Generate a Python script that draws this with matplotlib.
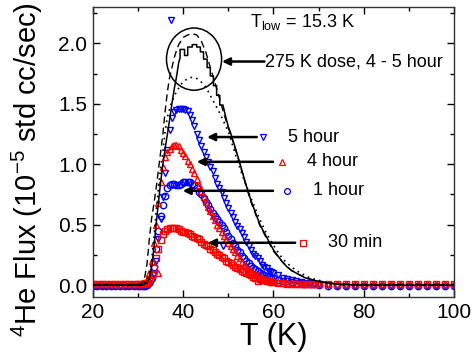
import matplotlib
matplotlib.use('Agg')
import matplotlib.pyplot as plt
from matplotlib.patches import Ellipse
from matplotlib.ticker import MultipleLocator

plt.rcParams['font.family'] = ['Liberation Sans', 'DejaVu Sans']
plt.rcParams['mathtext.fontset'] = 'custom'
plt.rcParams['mathtext.rm'] = 'Liberation Sans'
plt.rcParams['mathtext.it'] = 'Liberation Sans:italic'

# Shared temperature grid for the measured series (K)
T_pts = [20, 21, 22, 23, 24, 25, 26, 27, 28, 29, 30, 30.5, 31, 31.5, 32, 32.5, 33, 33.5, 34, 34.5,
         35, 35.5, 36, 36.5, 37, 37.5, 38, 38.5, 39, 39.5, 40, 40.5, 41, 41.5, 42, 42.5, 43, 43.5,
         44, 44.5, 45, 45.5, 46, 46.5, 47, 47.5, 48, 48.5, 49, 49.5, 50, 50.5, 51, 51.5, 52, 52.5,
         53, 53.5, 54, 54.5, 55, 55.5, 56, 56.5, 57, 57.5, 58, 58.5, 59, 59.5, 60, 61, 62, 63, 64,
         65, 66, 67, 68, 69, 70, 72, 74, 76, 78, 80, 82, 84, 86, 88, 90, 92, 94, 96, 98, 100]

# 5 hour dose (blue down triangles)
flux_5h = [-0.01, -0.01, -0.01, -0.01, -0.01, -0.01, -0.01, -0.01, -0.01, -0.01, -0.01, -0.01, -0.01, -0.01, 0.0, 0.01,
           0.03, 0.08, 0.2, 0.38, 0.55, 0.73, 0.93, 1.12, 1.28, 1.38, 1.43, 1.45, 1.46, 1.46, 1.46, 1.45, 1.44, 1.41,
           1.37, 1.32, 1.25, 1.2, 1.15, 1.1, 1.06, 1.02, 0.98, 0.94, 0.89, 0.84, 0.8, 0.77, 0.72, 0.68, 0.64, 0.6,
           0.56, 0.52, 0.49, 0.46, 0.43, 0.4, 0.36, 0.32, 0.29, 0.26, 0.24, 0.22, 0.2, 0.17, 0.15, 0.14, 0.12, 0.11,
           0.1, 0.08, 0.06, 0.05, 0.04, 0.03, 0.025, 0.02, 0.015, 0.01, 0.005, 0.0, -0.01, -0.01, -0.01, -0.01,
           -0.01, -0.01, -0.01, -0.01, -0.01, -0.01, -0.01, -0.01, -0.01, -0.01]
# 4 hour dose (red up triangles)
flux_4h = [0.01, 0.01, 0.01, 0.01, 0.01, 0.01, 0.01, 0.01, 0.01, 0.01, 0.01, 0.01, 0.015, 0.02, 0.04, 0.1,
           0.2, 0.35, 0.5, 0.68, 0.85, 0.98, 1.06, 1.1, 1.13, 1.15, 1.16, 1.16, 1.15, 1.12, 1.09, 1.07, 1.03, 1.0,
           0.96, 0.93, 0.88, 0.83, 0.78, 0.73, 0.69, 0.65, 0.61, 0.57, 0.54, 0.5, 0.47, 0.44, 0.41, 0.38, 0.35, 0.32,
           0.3, 0.27, 0.24, 0.22, 0.19, 0.17, 0.15, 0.13, 0.12, 0.1, 0.09, 0.08, 0.07, 0.06, 0.05, 0.045, 0.04, 0.035,
           0.03, 0.025, 0.02, 0.018, 0.015, 0.015, 0.012, 0.012, 0.01, 0.01, 0.01, 0.01, 0.01, 0.01, 0.01, 0.01,
           0.01, 0.01, 0.01, 0.01, 0.01, 0.01, 0.01, 0.01, 0.01, 0.01]
# 1 hour dose (blue circles)
flux_1h = [-0.01, -0.01, -0.01, -0.01, -0.01, -0.01, -0.01, -0.01, -0.01, -0.01, -0.01, -0.01, -0.01, -0.005, 0.0, 0.02,
           0.06, 0.15, 0.3, 0.45, 0.57, 0.66, 0.74, 0.8, 0.83, 0.84, 0.84, 0.83, 0.83, 0.84, 0.85, 0.85, 0.85, 0.85,
           0.84, 0.83, 0.8, 0.77, 0.75, 0.72, 0.69, 0.66, 0.63, 0.6, 0.57, 0.55, 0.52, 0.5, 0.47, 0.44, 0.41, 0.38,
           0.35, 0.32, 0.29, 0.27, 0.24, 0.22, 0.2, 0.18, 0.16, 0.14, 0.13, 0.12, 0.1, 0.09, 0.08, 0.075, 0.07, 0.06,
           0.055, 0.045, 0.035, 0.03, 0.025, 0.02, 0.015, 0.01, 0.01, 0.005, 0.0, -0.005, -0.01, -0.01, -0.01, -0.01,
           -0.01, -0.01, -0.01, -0.01, -0.01, -0.01, -0.01, -0.01, -0.01, -0.01]
# 30 min dose (red squares)
flux_30m = [0.01, 0.01, 0.01, 0.01, 0.01, 0.01, 0.01, 0.01, 0.01, 0.01, 0.01, 0.01, 0.01, 0.015, 0.02, 0.04,
            0.08, 0.14, 0.22, 0.3, 0.37, 0.42, 0.45, 0.46, 0.47, 0.47, 0.47, 0.47, 0.46, 0.45, 0.44, 0.44, 0.43, 0.42,
            0.41, 0.4, 0.39, 0.38, 0.36, 0.34, 0.33, 0.32, 0.3, 0.29, 0.27, 0.26, 0.25, 0.23, 0.22, 0.2, 0.19, 0.18,
            0.17, 0.15, 0.14, 0.13, 0.12, 0.11, 0.1, 0.09, 0.08, 0.07, 0.06, 0.055, 0.05, 0.045, 0.04, 0.035, 0.03, 0.028,
            0.025, 0.02, 0.015, 0.012, 0.01, 0.01, 0.01, 0.01, 0.01, 0.01, 0.01, 0.01, 0.01, 0.01, 0.01, 0.01,
            0.01, 0.01, 0.01, 0.01, 0.01, 0.01, 0.01, 0.01, 0.01, 0.01]

# stray points
T_out_5h, flux_out_5h = [37.3, 48.8], [2.19, 0.32]
T_out_4h, flux_out_4h = [34.4], [0.1]
T_out_30m, flux_out_30m = [56.6], [0.03]

# 275 K dose, 4 - 5 hour (solid, stepped near the top)
T_275 = [20, 25, 30, 31, 32, 32.5, 33, 33.5, 34, 34.5, 35, 35.5, 36, 36.5, 37, 37.5, 38, 38.5, 39.0, 39.3,
         39.3, 40.3, 40.3, 41.0, 41.0, 42.0, 42.0, 43.0, 43.0, 43.8, 43.8, 44.5, 44.5, 45.3, 45.3, 46.0, 46.0,
         46.7, 46.7, 47.4, 47.4, 48.1, 48.1, 48.8, 49.5, 50, 50.5, 51, 52, 53, 54, 55, 56, 57, 58, 59, 60, 61,
         62, 63, 64, 65, 66, 67, 68, 69, 70, 72, 75, 80, 90, 100]
flux_275 = [0.0, 0.0, 0.0, 0.0, 0.02, 0.06, 0.15, 0.3, 0.5, 0.68, 0.85, 1.0, 1.13, 1.25, 1.37, 1.5, 1.62, 1.72, 1.84, 1.88,
            1.95, 1.95, 1.9, 1.9, 1.97, 1.97, 1.99, 1.99, 1.97, 1.97, 1.93, 1.93, 1.87, 1.87, 1.8, 1.8, 1.73,
            1.73, 1.65, 1.65, 1.57, 1.57, 1.49, 1.49, 1.38, 1.31, 1.26, 1.2, 1.08, 0.95, 0.82, 0.7, 0.6, 0.5, 0.43, 0.36, 0.29, 0.24,
            0.19, 0.15, 0.12, 0.1, 0.08, 0.06, 0.05, 0.04, 0.03, 0.015, 0.005, 0.0, 0.0, 0.0]
# dashed reference curve
T_dash = [20, 30, 31, 31.5, 32, 32.5, 33, 33.5, 34, 34.5, 35, 35.5, 36, 36.5, 37, 37.5, 38, 38.5, 39, 39.5,
          40, 41, 42, 43, 44, 45, 46, 47, 48, 49, 50, 51, 52, 53, 54, 55, 56, 57, 58, 59, 60, 62, 64, 66,
          68, 70, 75, 80, 100]
flux_dash = [0.0, 0.0, 0.02, 0.07, 0.18, 0.38, 0.55, 0.67, 0.8, 0.95, 1.1, 1.25, 1.44, 1.6, 1.72, 1.8, 1.88, 1.94, 1.99, 2.02,
             2.05, 2.07, 2.08, 2.07, 2.02, 1.93, 1.8, 1.68, 1.55, 1.42, 1.3, 1.19, 1.07, 0.94, 0.81, 0.69, 0.59, 0.49, 0.42, 0.35,
             0.28, 0.19, 0.12, 0.08, 0.05, 0.03, 0.005, 0.0, 0.0]
# dotted reference curve
T_dot = [20, 31, 32, 32.5, 33, 33.5, 34, 34.5, 35, 35.5, 36, 36.5, 37, 37.5, 38, 38.5, 39, 39.5, 40, 41, 42,
         43, 44, 45, 46, 47, 48, 49, 50, 51, 52, 53, 54, 55, 56, 57, 58, 59, 60, 61, 62, 63, 64, 65, 66, 68,
         70, 72, 75, 80, 100]
flux_dot = [0.0, 0.0, 0.04, 0.1, 0.2, 0.38, 0.6, 0.8, 0.97, 1.1, 1.28, 1.39, 1.46, 1.52, 1.56, 1.6, 1.63, 1.66, 1.68, 1.71, 1.72,
            1.71, 1.68, 1.64, 1.57, 1.5, 1.43, 1.35, 1.27, 1.15, 1.03, 0.92, 0.82, 0.72, 0.63, 0.54, 0.46, 0.39, 0.33, 0.27, 0.22,
            0.18, 0.15, 0.12, 0.1, 0.06, 0.04, 0.02, 0.005, 0.0, 0.0]

fig = plt.figure(figsize=(4.74, 3.58), dpi=100)
ax = fig.add_axes([0.196, 0.170, 0.762, 0.810])

mk = dict(linestyle='none', markersize=4.6, markerfacecolor='none', markeredgewidth=1.0)
ax.plot(T_pts, flux_5h, marker='v', color='blue', **mk)
ax.plot(T_out_5h, flux_out_5h, marker='v', color='blue', **mk)
ax.plot(T_pts, flux_1h, marker='o', color='blue', **mk)
ax.plot(T_pts, flux_4h, marker='^', color='red', **mk)
ax.plot(T_out_4h, flux_out_4h, marker='^', color='red', **mk)
ax.plot(T_pts, flux_30m, marker='s', color='red', **mk)
ax.plot(T_out_30m, flux_out_30m, marker='s', color='red', **mk)

ax.plot(T_dash, flux_dash, color='black', lw=1.0, ls=(0, (5, 3)), zorder=4)
ax.plot(T_dot, flux_dot, color='black', lw=1.2, ls=(0, (1, 2.5)), zorder=4)
ax.plot(T_275, flux_275, color='black', lw=1.1, zorder=5)

ax.add_patch(Ellipse((42.4, 1.87), 12.2, 0.515, fill=False, edgecolor='black', lw=1.1, zorder=6))

# arrows, legend markers and labels
arw = dict(arrowstyle='-|>', color='black', lw=1.8, mutation_scale=11, shrinkA=0, shrinkB=0)
ax.annotate('', xy=(48.6, 1.85), xytext=(58.0, 1.85), arrowprops=arw)
ax.text(58.1, 1.85, '275 K dose, 4 - 5 hour', fontsize=13, va='center', ha='left')

rows = [(1.225, 45.3, 56.3, 57.7, 63.2, 'v', 'blue', '5 hour'),
        (1.02, 43.0, 59.9, 61.9, 67.4, '^', 'red', '4 hour'),
        (0.78, 39.9, 59.9, 63.0, 68.8, 'o', 'blue', '1 hour'),
        (0.35, 45.5, 64.8, 66.5, 72.1, 's', 'red', '30 min')]
for y, tip, tail, mx, tx, m, c, lab in rows:
    ax.annotate('', xy=(tip, y), xytext=(tail, y), arrowprops=arw)
    ax.plot([mx], [y], marker=m, color=c, linestyle='none', markersize=4.2,
            markerfacecolor='none', markeredgewidth=0.9)
    ax.text(tx, y, lab, fontsize=13, va='center', ha='left')

ax.text(54.8, 2.18, r'T$_{\mathrm{low}}$ = 15.3 K', fontsize=13, va='center', ha='left')

ax.set_xlim(20, 100)
ax.set_ylim(-0.1, 2.3)
ax.xaxis.set_major_locator(MultipleLocator(20))
ax.xaxis.set_minor_locator(MultipleLocator(10))
ax.yaxis.set_major_locator(MultipleLocator(0.5))
ax.yaxis.set_minor_locator(MultipleLocator(0.25))
ax.yaxis.set_major_formatter(plt.FormatStrFormatter('%.1f'))
ax.tick_params(which='both', direction='in', top=True, right=True, width=1.0, labelsize=15, pad=4)
ax.tick_params(which='major', length=5)
ax.tick_params(which='minor', length=3)
for s in ax.spines.values():
    s.set_linewidth(1.0)
    s.set_color('#333333')

ax.set_xlabel('T (K)', fontsize=22, labelpad=0)
ax.set_ylabel(r'$^{4}$He Flux (10$^{-5}$ std cc/sec)', fontsize=21)
ax.yaxis.set_label_coords(-0.133, 0.44)

fig.savefig('out.png', dpi=100)
